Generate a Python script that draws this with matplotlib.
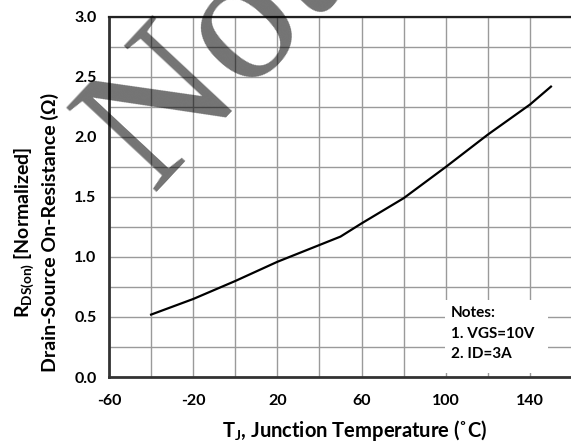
import matplotlib
matplotlib.use("Agg")
import matplotlib.pyplot as plt
from matplotlib.patches import Rectangle
import numpy as np

# ---- data ----
temp_c = [-40, -20, 0, 20, 50, 60, 80, 100, 120, 140, 150]
rds_norm = [0.52, 0.65, 0.80, 0.96, 1.17, 1.28, 1.49, 1.75, 2.02, 2.27, 2.42]
x_grid = [-60, -40, -20, 0, 20, 40, 60, 80, 100, 120, 140, 160]
x_labels = ["-60", "", "-20", "", "20", "", "60", "", "100", "", "140", ""]
y_ticks = [0.0, 0.5, 1.0, 1.5, 2.0, 2.5, 3.0]
y_labels = ["0.0", "0.5", "1.0", "1.5", "2.0", "2.5", "3.0"]
y_minor = [0.25, 0.75, 1.25, 1.75, 2.25, 2.75]
notes = "Notes:\n1. VGS=10V\n2. ID=3A"

plt.rcParams['font.family'] = ['Lato', 'DejaVu Sans']
plt.rcParams['font.weight'] = 'bold'
plt.rcParams['mathtext.fontset'] = 'custom'
plt.rcParams['mathtext.rm'] = 'Lato:bold'
plt.rcParams['mathtext.bf'] = 'Lato:bold'
plt.rcParams['mathtext.it'] = 'Lato:bold'

W, H = 571, 444
fig = plt.figure(figsize=(W / 100, H / 100), dpi=100)
L, R, T, B = 109, 572, 17, 377
ax = fig.add_axes([L / W, 1 - B / H, (R - L) / W, (B - T) / H])

ax.set_xlim(-60, 160)
ax.set_ylim(0, 3.0)
ax.set_xticks(x_grid)
ax.set_xticklabels(x_labels)
ax.set_yticks(y_ticks)
ax.set_yticklabels(y_labels)
ax.set_yticks(y_minor, minor=True)
ax.tick_params(which='both', length=0)
ax.tick_params(axis='x', pad=12, labelsize=11.5)
ax.tick_params(axis='y', pad=9, labelsize=11.5)
ax.grid(True, which='both', color='#9a9a9a', linewidth=1.0)
ax.set_axisbelow(True)

for s in ['left', 'bottom']:
    ax.spines[s].set_linewidth(2.0)
    ax.spines[s].set_color('#333333')
ax.spines['top'].set_linewidth(1.6)
ax.spines['top'].set_color('#222222')
ax.spines['right'].set_visible(False)

ax.plot(temp_c, rds_norm, color='black', linewidth=1.6, zorder=4)

# notes box
ax.add_patch(Rectangle((99.6, 0.03), 48.9, 0.61, facecolor='white',
                       edgecolor='none', zorder=3))
ax.text(102.5, 0.59, notes, fontsize=11, fontweight='bold', va='top',
        ha='left', linespacing=1.6, zorder=5)

fig.text(355 / W, 1 - 430 / H, 'T$_{\\mathrm{J}}$, Junction Temperature (˚C)',
         ha='center', va='center', fontsize=14.5, fontweight='bold')
fig.text(36 / W, 1 - 232 / H,
         'R$_{\\mathrm{DS(on)}}$ [Normalized]\nDrain-Source On-Resistance (Ω)',
         ha='center', va='center', rotation=90, fontsize=14,
         fontweight='bold', multialignment='center', linespacing=1.3)

# watermark
fig.text(154 / W, 1 - 196 / H, 'Not Recommended', rotation=47,
         rotation_mode='anchor', ha='left', va='baseline',
         fontsize=136, family='Liberation Serif', fontweight='normal',
         color='black', alpha=0.55, zorder=10)

fig.savefig('out.png', dpi=100)
